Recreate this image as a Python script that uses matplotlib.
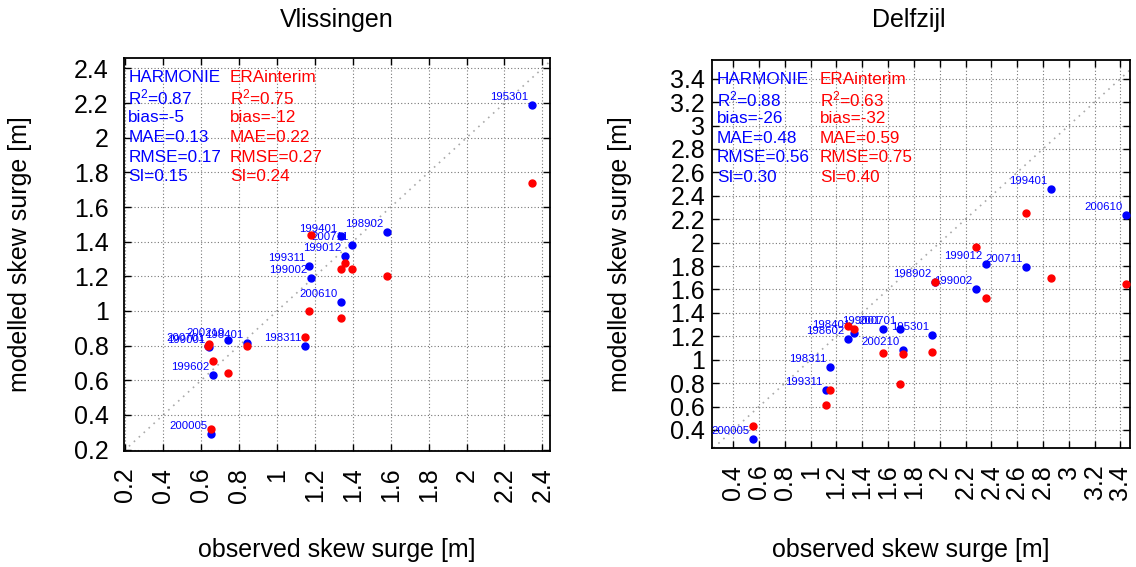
import numpy as np
import matplotlib
matplotlib.use("Agg")
import matplotlib.pyplot as plt

plt.rcParams['font.family'] = ['Liberation Sans', 'DejaVu Sans']
plt.rcParams['mathtext.fontset'] = 'custom'
plt.rcParams['mathtext.rm'] = 'Liberation Sans'
plt.rcParams['mathtext.it'] = 'Liberation Sans'

# ---------------- data ----------------
vl_events = ["200005", "199602", "199001", "200701", "200210", "198401", "198311",
             "199311", "199002", "200610", "199401", "199012", "200711", "198902", "195301"]
vl_obs = [0.65, 0.66, 0.64, 0.635, 0.74, 0.84, 1.15, 1.17, 1.18, 1.336, 1.336, 1.357, 1.397, 1.58, 2.344]
vl_harmonie = [0.29, 0.63, 0.79, 0.80, 0.83, 0.815, 0.80, 1.26, 1.19, 1.05, 1.43, 1.32, 1.38, 1.455, 2.19]
vl_era = [0.32, 0.71, 0.81, 0.80, 0.64, 0.80, 0.85, 1.00, 1.44, 0.96, 1.24, 1.275, 1.24, 1.20, 1.74]

dz_events = ["200005", "199311", "198311", "198602", "198401", "199001", "200701", "200210",
             "195301", "198902", "199002", "199012", "200711", "199401", "200610"]
dz_obs = [0.55, 1.116, 1.15, 1.287, 1.336, 1.563, 1.692, 1.713, 1.943, 1.964, 2.281, 2.359, 2.669, 2.86, 3.444]
dz_harmonie = [0.32, 0.742, 0.94, 1.175, 1.226, 1.263, 1.263, 1.084, 1.212, 1.668, 1.605, 1.816, 1.796, 2.46, 2.238]
dz_era = [0.43, 0.614, 0.742, 1.289, 1.263, 1.06, 0.79, 1.05, 1.069, 1.668, 1.967, 1.526, 2.252, 1.697, 1.648]

vl_stats_h = ["HARMONIE", r"R$^{2}$=0.87", "bias=-5", "MAE=0.13", "RMSE=0.17", "SI=0.15"]
vl_stats_e = ["ERAinterim", r"R$^{2}$=0.75", "bias=-12", "MAE=0.22", "RMSE=0.27", "SI=0.24"]
dz_stats_h = ["HARMONIE", r"R$^{2}$=0.88", "bias=-26", "MAE=0.48", "RMSE=0.56", "SI=0.30"]
dz_stats_e = ["ERAinterim", r"R$^{2}$=0.63", "bias=-32", "MAE=0.59", "RMSE=0.75", "SI=0.40"]

vl_ticks = np.round(np.arange(0.2, 2.41, 0.2), 1)
dz_ticks = np.round(np.arange(0.4, 3.41, 0.2), 1)

BLUE = '#0000ff'
RED = '#ff0000'

fig = plt.figure(figsize=(11.36, 5.67), dpi=100)

def panel(rect, obs, harm, era, events, stats_h, stats_e, ticks, xlim, ylim,
          ypad, stat_x, title, title_x, xlab_x, ylab_x):
    ax = fig.add_axes(rect)
    ax.set_xlim(*xlim)
    ax.set_ylim(*ylim)
    ax.set_xticks(ticks)
    ax.set_yticks(ticks)
    ax.set_xticklabels(['%g' % t for t in ticks], rotation=90)
    ax.set_yticklabels(['%g' % t for t in ticks])
    ax.tick_params(direction='in', length=5, width=1.0, top=True, right=True,
                   labelsize=18, colors='black')
    ax.tick_params(axis='x', pad=12)
    ax.tick_params(axis='y', pad=ypad)
    ax.grid(True, color='#777777', linestyle=(0, (1, 2)), linewidth=0.8)
    for s in ax.spines.values():
        s.set_linewidth(1.3)
    lo = max(xlim[0], ylim[0])
    hi = min(xlim[1], ylim[1])
    ax.plot([lo, hi], [lo, hi], linestyle=(0, (1, 3)), color='#aaaaaa', lw=1.2, zorder=1)
    ax.plot(obs, harm, 'o', color=BLUE, ms=5, mec=BLUE, zorder=3)
    for xo, yh, ev in zip(obs, harm, events):
        ax.annotate(ev, (xo, yh), xytext=(-2.5, 3.5), textcoords='offset points',
                    ha='right', va='baseline', color=BLUE, fontsize=8.2, zorder=4)
    ax.plot(obs, era, 'o', color=RED, ms=5, mec=RED, zorder=5)
    y0, dy = 0.950, 0.0505
    for i, (sh, se) in enumerate(zip(stats_h, stats_e)):
        ax.text(stat_x[0], y0 - i * dy, sh, transform=ax.transAxes, color=BLUE,
                fontsize=12.3, ha='left', va='center', zorder=6)
        ax.text(stat_x[1], y0 - i * dy, se, transform=ax.transAxes, color=RED,
                fontsize=12.3, ha='left', va='center', zorder=6)
    fig.text(title_x, 0.965, title, ha='center', va='center', fontsize=18)
    fig.text(xlab_x, 0.030, 'observed skew surge [m]', ha='center', va='center', fontsize=18)
    fig.text(ylab_x, rect[1] + rect[3] / 2, 'modelled skew surge [m]', ha='center',
             va='center', rotation=90, fontsize=18)
    return ax

panel([124 / 1136, 1 - 451 / 567, 426 / 1136, 393 / 567],
      vl_obs, vl_harmonie, vl_era, vl_events, vl_stats_h, vl_stats_e, vl_ticks,
      (0.193, 2.44), (0.192, 2.46), 11, (0.010, 0.249),
      'Vlissingen', 0.2967, 0.2967, 0.0176)

panel([712 / 1136, 1 - 448 / 567, 418 / 1136, 388 / 567],
      dz_obs, dz_harmonie, dz_era, dz_events, dz_stats_h, dz_stats_e, dz_ticks,
      (0.235, 3.475), (0.246, 3.56), 5, (0.012, 0.258),
      'Delfzijl', 0.800, 0.802, 0.546)

fig.savefig('out.png', dpi=100)
